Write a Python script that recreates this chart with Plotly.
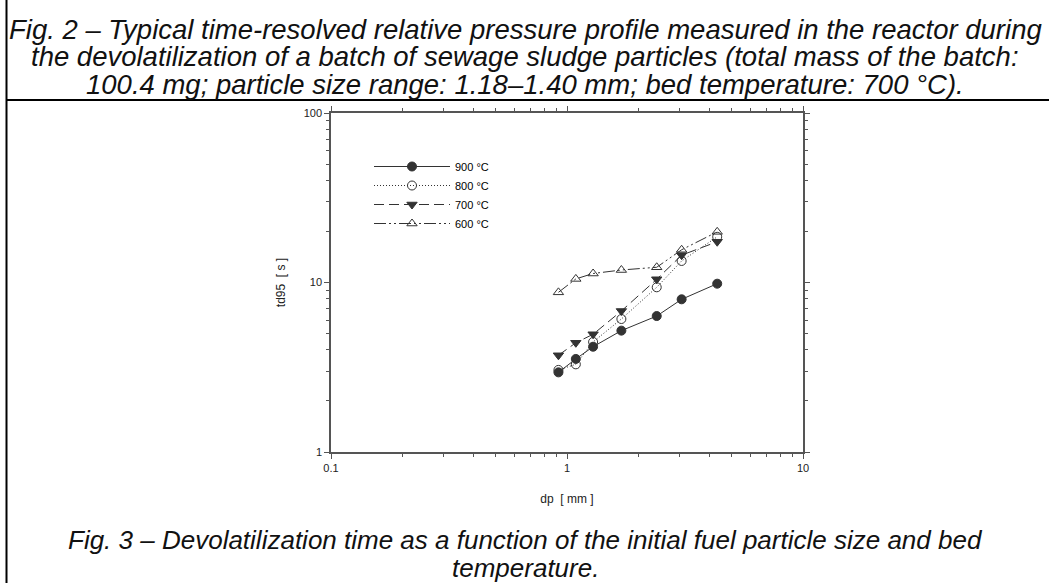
import plotly.graph_objects as go

# ---- data ----
dp_mm = [0.92, 1.09, 1.29, 1.70, 2.40, 3.06, 4.33]
td95_900 = [2.95, 3.54, 4.18, 5.20, 6.34, 7.96, 9.84]
td95_800 = [3.05, 3.29, 4.46, 6.09, 9.37, 13.4, 18.6]
td95_700 = [3.72, 4.41, 4.95, 6.79, 10.45, 14.5, 17.4]
td95_600 = [8.75, 10.5, 11.3, 11.85, 12.3, 15.6, 19.9]
series_names = ["900 °C", "800 °C", "700 °C", "600 °C"]
x_tickvals = [0.1, 1, 10]
x_ticktext = ["0.1", "1", "10"]
y_tickvals = [1, 10, 100]
y_ticktext = ["1", "10", "100"]

W, H = 1049, 583
L, R, T, B = 331, 803, 113, 452  # plot frame in pixels


def px(x):
    return (x - L) / (R - L)


def py(y):
    return (B - y) / (B - T)


ink = "#333333"
axis_col = "#555555"
styles = [
    dict(dash="solid", symbol="circle"),
    dict(dash="1px,2px", symbol="circle-open"),
    dict(dash="10px,5px", symbol="triangle-down"),
    dict(dash="12px,3px,2px,3px,2px,3px", symbol="triangle-up-open"),
]
series = [td95_900, td95_800, td95_700, td95_600]

fig = go.Figure()
for name, vals, st in zip(series_names, series, styles):
    fig.add_trace(go.Scatter(
        x=dp_mm, y=vals, name=name, mode="lines+markers",
        line=dict(color=ink, width=1, dash=st["dash"]),
        marker=dict(symbol=st["symbol"], size=9, color=ink,
                    line=dict(color=ink, width=1)),
    ))

axis_common = dict(
    type="log", showline=True, linecolor=axis_col, linewidth=1.5, mirror="allticks",
    ticks="outside", ticklen=5, tickwidth=1, tickcolor=axis_col,
    showgrid=False, zeroline=False,
    tickfont=dict(family="Liberation Sans, Arial", size=11, color="#222222"),
    minor=dict(ticks="outside", ticklen=3, tickcolor=axis_col, showgrid=False,
               dtick="D1"),
)

fig.update_xaxes(
    range=[-1, 1], tickvals=x_tickvals, ticktext=x_ticktext,
    title=dict(text="dp  [ mm ]", standoff=22,
               font=dict(family="Liberation Sans, Arial", size=12, color="#222222")),
    **axis_common,
)
fig.update_yaxes(
    range=[0, 2], tickvals=y_tickvals, ticktext=y_ticktext,
    title=dict(text="td95  [ s ]", standoff=15,
               font=dict(family="Liberation Sans, Arial", size=12, color="#222222")),
    **axis_common,
)


def cap_font(size):
    return dict(family="Liberation Sans, Arial", size=size, color="#111111")


captions = [
    ("<i>Fig. 2 – Typical time-resolved relative pressure profile measured in the reactor during</i>", 29, 27.5),
    ("<i>the devolatilization of a batch of sewage sludge particles (total mass of the batch:</i>", 57, 27.5),
    ("<i>100.4 mg; particle size range: 1.18–1.40 mm; bed temperature: 700 °C).</i>", 84, 27.5),
    ("<i>Fig. 3 – Devolatilization time as a function of the initial fuel particle size and bed</i>", 540, 26),
    ("<i>temperature.</i>", 568, 26),
]
annotations = []
for txt, yy, sz in captions:
    annotations.append(dict(
        text=txt, x=px(525), y=py(yy), xref="paper", yref="paper",
        xanchor="center", yanchor="middle", showarrow=False, font=cap_font(sz),
    ))

shapes = [
    dict(type="line", xref="paper", yref="paper", x0=px(6.5), x1=px(6.5),
         y0=py(0), y1=py(583), line=dict(color="black", width=2)),
    dict(type="line", xref="paper", yref="paper", x0=px(6.5), x1=px(1049),
         y0=py(100), y1=py(100), line=dict(color="black", width=2)),
]

fig.update_layout(
    width=W, height=H,
    margin=dict(l=L, r=W - R, t=T, b=H - B, pad=0),
    paper_bgcolor="white", plot_bgcolor="white",
    showlegend=True,
    legend=dict(x=px(369), y=py(152), xanchor="left", yanchor="top",
                bgcolor="rgba(0,0,0,0)", borderwidth=0,
                font=dict(family="Liberation Sans, Arial", size=11, color="#000000"),
                itemwidth=76, tracegroupgap=0),
    annotations=annotations,
    shapes=shapes,
)

fig.write_html("out.html", config={"displayModeBar": False},
               post_script="document.body.style.margin='0';")
